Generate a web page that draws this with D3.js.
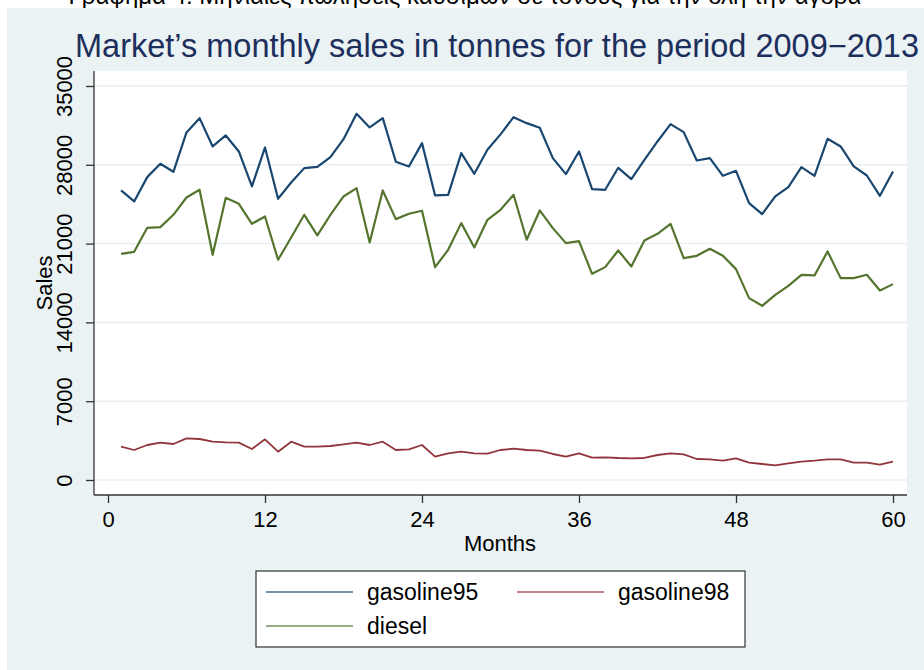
<!DOCTYPE html>
<html>
<head>
<meta charset="utf-8">
<script src="https://cdn.jsdelivr.net/npm/d3@7"></script>
<style>
  body { margin: 0; background: #fff; }
  text { font-family: "Liberation Sans", Arial, sans-serif; }
</style>
</head>
<body>
<div id="chart"></div>
<script>
// months 1..60 (Jan 2009 - Dec 2013)
const months = d3.range(1, 61);

const gasoline95 = [25720, 24743, 26905, 28089, 27378, 30872, 32145, 29629, 30606, 29184,
  26075, 29540, 24980, 26431, 27704, 27822, 28681, 30280, 32530, 31316,
  32145, 28266, 27852, 29925, 25276, 25335, 29036, 27200, 29332, 30700,
  32234, 31701, 31287, 28592, 27171, 29184, 25838, 25779, 27734, 26727,
  28444, 30073, 31612, 30902, 28385, 28592, 27023, 27467, 24595, 23618,
  25187, 26016, 27793, 27023, 30310, 29629, 27852, 27052, 25246, 27408];

const gasoline98 = [2960, 2665, 3109, 3316, 3197, 3700, 3642, 3405, 3345, 3316,
  2753, 3612, 2516, 3405, 2960, 2960, 3020, 3168, 3316, 3109,
  3405, 2665, 2724, 3109, 2073, 2369, 2516, 2369, 2340, 2665,
  2783, 2665, 2605, 2310, 2073, 2369, 1984, 2014, 1955, 1925,
  1955, 2221, 2369, 2280, 1866, 1836, 1718, 1925, 1540, 1421,
  1303, 1480, 1629, 1718, 1836, 1836, 1540, 1540, 1362, 1629];

const diesel = [20094, 20272, 22404, 22463, 23558, 25098, 25779, 20005, 25069, 24536,
  22759, 23410, 19561, 21545, 23558, 21723, 23558, 25187, 25927, 21101,
  25720, 23174, 23647, 23914, 18910, 20450, 22818, 20657, 23114, 24000,
  25335, 21338, 23944, 22374, 21042, 21220, 18318, 18910, 20390, 18969,
  21279, 21871, 22759, 19709, 19916, 20538, 19916, 18732, 16156, 15475,
  16452, 17252, 18229, 18170, 20302, 17933, 17933, 18229, 16837, 17400];

const xTicks = [0, 12, 24, 36, 48, 60];
const yTicks = [0, 7000, 14000, 21000, 28000, 35000];

const seriesNames = ["gasoline95", "gasoline98", "diesel"];
const seriesColors = ["#1a476f", "#90353b", "#55752f"];

const W = 924, H = 670;
const svg = d3.select("#chart").append("svg").attr("width", W).attr("height", H);

// document caption (only its lower part shows above the graph) and graph region
svg.append("text").attr("x", 465).attr("y", 4).attr("text-anchor", "middle")
  .style("font-size", "24px").attr("fill", "#000")
  .text("Γράφημα 4: Μηνιαίες πωλήσεις καυσίμων σε τόνους για την όλη την αγορά");
svg.append("rect").attr("x", 7).attr("y", 8).attr("width", W - 7).attr("height", H - 8).attr("fill", "#eaf2f3");

const plot = { left: 94, right: 907, top: 71, bottom: 495 };
svg.append("rect").attr("x", plot.left).attr("y", plot.top)
  .attr("width", plot.right - plot.left).attr("height", plot.bottom - plot.top).attr("fill", "#fff");

const x = d3.scaleLinear().domain([0, 60]).range([108, 893]);
const y = d3.scaleLinear().domain([0, 35000]).range([480, 86]);

// gridlines
svg.append("g").selectAll("line").data(yTicks).enter().append("line")
  .attr("x1", plot.left).attr("x2", plot.right)
  .attr("y1", d => y(d)).attr("y2", d => y(d))
  .attr("stroke", "#e7eff1").attr("stroke-width", 1.5);

// axes
const yAxis = svg.append("g").attr("transform", "translate(" + plot.left + ",0)")
  .call(d3.axisLeft(y).tickValues(yTicks).tickSize(8).tickPadding(14).tickFormat(d3.format("d")));
yAxis.select(".domain").attr("d", "M0," + plot.top + "V" + plot.bottom);
yAxis.selectAll(".tick text").attr("transform", "rotate(-90)").attr("x", 0).attr("y", -22)
  .attr("dy", 0).attr("text-anchor", "middle").style("font-size", "22px").attr("fill", "#000");

const xAxis = svg.append("g").attr("transform", "translate(0," + plot.bottom + ")")
  .call(d3.axisBottom(x).tickValues(xTicks).tickSize(8).tickPadding(10).tickFormat(d3.format("d")));
xAxis.select(".domain").attr("d", "M" + plot.left + ",0H" + plot.right);
xAxis.selectAll(".tick text").attr("y", 32).attr("dy", 0).style("font-size", "22px").attr("fill", "#000");

svg.selectAll(".domain, .tick line").attr("stroke", "#333").attr("stroke-width", 1.3);

svg.append("text").attr("x", 500).attr("y", 551).attr("text-anchor", "middle")
  .style("font-size", "22px").text("Months");
svg.append("text").attr("transform", "translate(52,283) rotate(-90)").attr("text-anchor", "middle")
  .style("font-size", "22px").text("Sales");

// title
svg.append("text").attr("x", 75).attr("y", 57).attr("fill", "#1c2f5c")
  .style("font-size", "32.5px").text("Market\u2019s monthly sales in tonnes for the period 2009\u22122013");

// lines
const line = d3.line().x((d, i) => x(months[i])).y(d => y(d));
[gasoline95, gasoline98, diesel].forEach((s, k) => {
  svg.append("path").datum(s).attr("d", line).attr("fill", "none")
    .attr("stroke", seriesColors[k]).attr("stroke-width", k === 1 ? 1.8 : 2.2)
    .attr("stroke-linejoin", "round");
});

// legend
svg.append("rect").attr("x", 256).attr("y", 571).attr("width", 489).attr("height", 76)
  .attr("fill", "#fff").attr("stroke", "#333").attr("stroke-width", 1.2);
const legendPos = [[266, 592], [517, 592], [266, 626]];
seriesNames.forEach((n, k) => {
  const p = legendPos[k];
  svg.append("line").attr("x1", p[0]).attr("x2", p[0] + 87).attr("y1", p[1]).attr("y2", p[1])
    .attr("stroke", seriesColors[k]).attr("stroke-width", 1.5).attr("opacity", 0.8);
  svg.append("text").attr("x", p[0] + 101).attr("y", p[1] + 8).style("font-size", "23px").text(n);
});
</script>
</body>
</html>
